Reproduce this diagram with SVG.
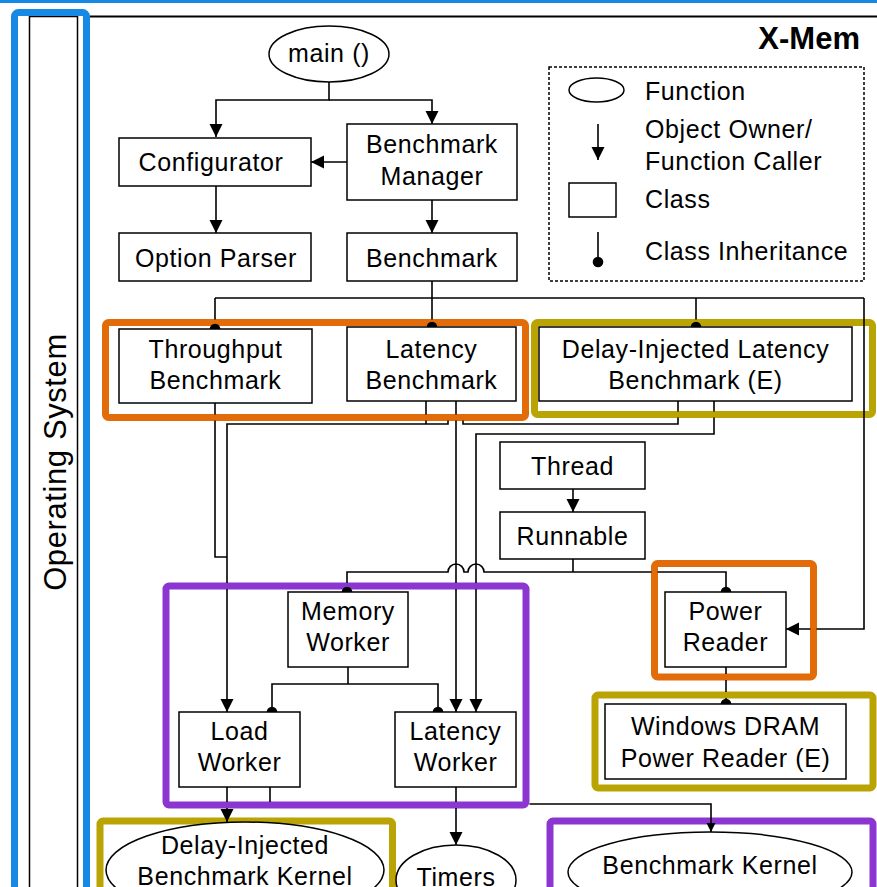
<svg xmlns="http://www.w3.org/2000/svg" width="877" height="887" viewBox="0 0 877 887">
<style>
  text { font-family: "Liberation Sans", Arial, sans-serif; font-size: 25px; letter-spacing: 0.6px; fill: #000; }
  .box { fill: #fff; stroke: #000; stroke-width: 1.5; }
  .c { fill: none; stroke: #000; stroke-width: 1.6; }
  .fr { fill: none; stroke-width: 7; }
  .blue { stroke: #1589e4; }
  .orange { stroke: #e36c0a; }
  .olive { stroke: #b9a404; }
  .purple { stroke: #8b36d1; }
  .m { text-anchor: middle; }
</style>
<defs>
  <marker id="arr" markerUnits="userSpaceOnUse" markerWidth="14" markerHeight="14" refX="13" refY="6.5" orient="auto">
    <path d="M0,0 L13,6.5 L0,13 z" fill="#000"/>
  </marker>
  <marker id="arrs" markerUnits="userSpaceOnUse" markerWidth="10" markerHeight="10" refX="9" refY="4.5" orient="auto">
    <path d="M0,0 L9,4.5 L0,9 z" fill="#000"/>
  </marker>
  <marker id="dot" markerUnits="userSpaceOnUse" markerWidth="12" markerHeight="12" refX="6" refY="6">
    <circle cx="6" cy="6" r="5.3" fill="#000"/>
  </marker>
</defs>
<rect width="877" height="887" fill="#fff"/>

<!-- Operating system frame -->
<g id="os">
  <rect x="0" y="0" width="877" height="3" fill="#1589e4"/>
  <line x1="90" y1="16.5" x2="877" y2="16.5" stroke="#000" stroke-width="1.8"/>
  <rect x="29.5" y="16.5" width="48" height="900" fill="none" stroke="#000" stroke-width="1.5"/>
  <rect class="fr blue" x="14.5" y="12.5" width="72" height="900" rx="4"/>
  <text transform="translate(66,462) rotate(-90)" class="m" style="font-size:31px">Operating System</text>
</g>
<text x="860" y="49" style="font-size:31px;font-weight:bold;text-anchor:end;letter-spacing:0">X-Mem</text>

<!-- legend -->
<g id="legend">
  <rect x="549" y="67" width="315" height="214" fill="none" stroke="#000" stroke-width="1.5" stroke-dasharray="3,2"/>
  <ellipse cx="596.5" cy="90" rx="27.5" ry="12" class="box"/>
  <text x="645" y="100">Function</text>
  <line x1="598" y1="124" x2="598" y2="160" class="c" marker-end="url(#arr)"/>
  <text x="645" y="138">Object Owner/</text>
  <text x="645" y="170">Function Caller</text>
  <rect x="569" y="183" width="47" height="34" class="box"/>
  <text x="645" y="208">Class</text>
  <line x1="598" y1="232" x2="598" y2="262" class="c" marker-end="url(#dot)"/>
  <text x="645" y="260">Class Inheritance</text>
</g>

<!-- highlight frames -->
<g id="frames">
  <rect class="fr orange" x="105.5" y="322.5" width="420" height="95" rx="3"/>
  <rect class="fr olive" x="534.5" y="322.5" width="338" height="92" rx="3"/>
  <rect class="fr purple" x="166" y="586" width="360" height="219" rx="3"/>
  <rect class="fr orange" x="654.5" y="563.5" width="159" height="113.5" rx="3"/>
  <rect class="fr olive" x="595" y="695" width="278" height="93" rx="3"/>
  <rect class="fr olive" x="100" y="821" width="292.5" height="100" rx="3"/>
  <rect class="fr purple" x="550" y="821" width="323" height="100" rx="3"/>
</g>

<!-- connectors -->
<g id="connectors">
  <path class="c" d="M329,82 V100 H216 V137" marker-end="url(#arr)"/>
  <path class="c" d="M329,100 H432 V124" marker-end="url(#arr)"/>
  <path class="c" d="M347,162 H311" marker-end="url(#arr)"/>
  <path class="c" d="M216,186 V233" marker-end="url(#arr)"/>
  <path class="c" d="M432,200 V233" marker-end="url(#arr)"/>
  <path class="c" d="M432,281 V298 M215,298 H864"/>
  <path class="c" d="M215,298 V319.5 M215,325.5 V329" marker-end="url(#dot)"/>
  <path class="c" d="M432,298 V319.5 M432,325.5 V327" marker-end="url(#dot)"/>
  <path class="c" d="M696,298 V319.5 M696,325.5 V327" marker-end="url(#dot)"/>
  <path class="c" d="M864,298 V629 H816.5 M810.5,629 H786" marker-end="url(#arr)"/>
  <path class="c" d="M215,403 V414.5 M215,420.5 V557 H227"/>
  <path class="c" d="M426,401 V414.5 M426,420.5 V424"/>
  <path class="c" d="M678,401 V411.5 M678,417.5 V424 H463 V420.5 M448,420.5 V424 H227 V583 M227,589 V712" marker-end="url(#arr)"/>
  <path class="c" d="M456,401 V414.5 M456,420.5 V583 M456,589 V712" marker-end="url(#arr)"/>
  <path class="c" d="M714,401 V411.5 M714,417.5 V434 H476 V583 M476,589 V712" marker-end="url(#arr)"/>
  <path class="c" d="M573,489 V512" marker-end="url(#arr)"/>
  <path class="c" d="M573,559 V572"/>
  <path class="c" d="M347,592 V589 M347,583 V572 H448 A8,8 0 0 1 464,572 H468 A8,8 0 0 1 484,572 H651.5 M657.5,572 H726 V592" marker-start="url(#dot)" marker-end="url(#dot)"/>
  <path class="c" d="M348,667 V684"/>
  <path class="c" d="M272,712 V684 H438 V712" marker-start="url(#dot)" marker-end="url(#dot)"/>
  <path class="c" d="M227,787 V802 M227,808 V822" marker-end="url(#arr)"/>
  <path class="c" d="M270,787 V802 M529.5,804 H711 V832" marker-end="url(#arrs)"/>
  <path class="c" d="M456,787 V802 M456,808 V845" marker-end="url(#arr)"/>
  <path class="c" d="M726,667 V674 M726,680 V692 M726,698 V704" marker-end="url(#dot)"/>
</g>

<!-- nodes -->
<g id="main">
  <ellipse cx="329" cy="54" rx="60" ry="28" class="box"/>
  <text x="329" y="62" class="m">main ()</text>
</g>
<g id="configurator">
  <rect x="119" y="138" width="192" height="48" class="box"/>
  <text x="211" y="171" class="m">Configurator</text>
</g>
<g id="benchmark-manager">
  <rect x="347" y="124" width="170" height="76" class="box"/>
  <text x="432" y="153" class="m">Benchmark</text>
  <text x="432" y="185" class="m">Manager</text>
</g>
<g id="option-parser">
  <rect x="119" y="233" width="192" height="48" class="box"/>
  <text x="216" y="267" class="m">Option Parser</text>
</g>
<g id="benchmark">
  <rect x="347" y="233" width="170" height="48" class="box"/>
  <text x="432" y="267" class="m">Benchmark</text>
</g>
<g id="throughput-benchmark">
  <rect x="119" y="329" width="193" height="74" class="box"/>
  <text x="215.5" y="358" class="m">Throughput</text>
  <text x="215.5" y="389" class="m">Benchmark</text>
</g>
<g id="latency-benchmark">
  <rect x="347" y="327" width="169" height="74" class="box"/>
  <text x="431.5" y="358" class="m">Latency</text>
  <text x="431.5" y="389" class="m">Benchmark</text>
</g>
<g id="delay-injected-latency-benchmark">
  <rect x="539" y="327" width="313" height="74" class="box"/>
  <text x="695.5" y="358" class="m">Delay-Injected Latency</text>
  <text x="695.5" y="389" class="m">Benchmark (E)</text>
</g>
<g id="thread">
  <rect x="500" y="442" width="145" height="47" class="box"/>
  <text x="572.5" y="475" class="m">Thread</text>
</g>
<g id="runnable">
  <rect x="500" y="512" width="145" height="47" class="box"/>
  <text x="572.5" y="545" class="m">Runnable</text>
</g>
<g id="memory-worker">
  <rect x="288" y="592" width="120" height="75" class="box"/>
  <text x="348" y="620" class="m">Memory</text>
  <text x="348" y="651" class="m">Worker</text>
</g>
<g id="load-worker">
  <rect x="179" y="712" width="121" height="75" class="box"/>
  <text x="239.5" y="740" class="m">Load</text>
  <text x="239.5" y="771" class="m">Worker</text>
</g>
<g id="latency-worker">
  <rect x="395" y="712" width="121" height="75" class="box"/>
  <text x="455.5" y="740" class="m">Latency</text>
  <text x="455.5" y="771" class="m">Worker</text>
</g>
<g id="power-reader">
  <rect x="665" y="592" width="121" height="75" class="box"/>
  <text x="725.5" y="620" class="m">Power</text>
  <text x="725.5" y="651" class="m">Reader</text>
</g>
<g id="windows-dram-power-reader">
  <rect x="605" y="704" width="241" height="75" class="box"/>
  <text x="725.5" y="735" class="m">Windows DRAM</text>
  <text x="725.5" y="767" class="m">Power Reader (E)</text>
</g>
<g id="delay-injected-benchmark-kernel">
  <ellipse cx="245" cy="870" rx="139" ry="48" class="box"/>
  <text x="245" y="854" class="m">Delay-Injected</text>
  <text x="245" y="885" class="m">Benchmark Kernel</text>
</g>
<g id="timers">
  <ellipse cx="456" cy="880" rx="60" ry="35" class="box"/>
  <text x="456" y="886" class="m">Timers</text>
</g>
<g id="benchmark-kernel">
  <ellipse cx="710" cy="872" rx="142" ry="40" class="box"/>
  <text x="710" y="874" class="m">Benchmark Kernel</text>
</g>
</svg>
